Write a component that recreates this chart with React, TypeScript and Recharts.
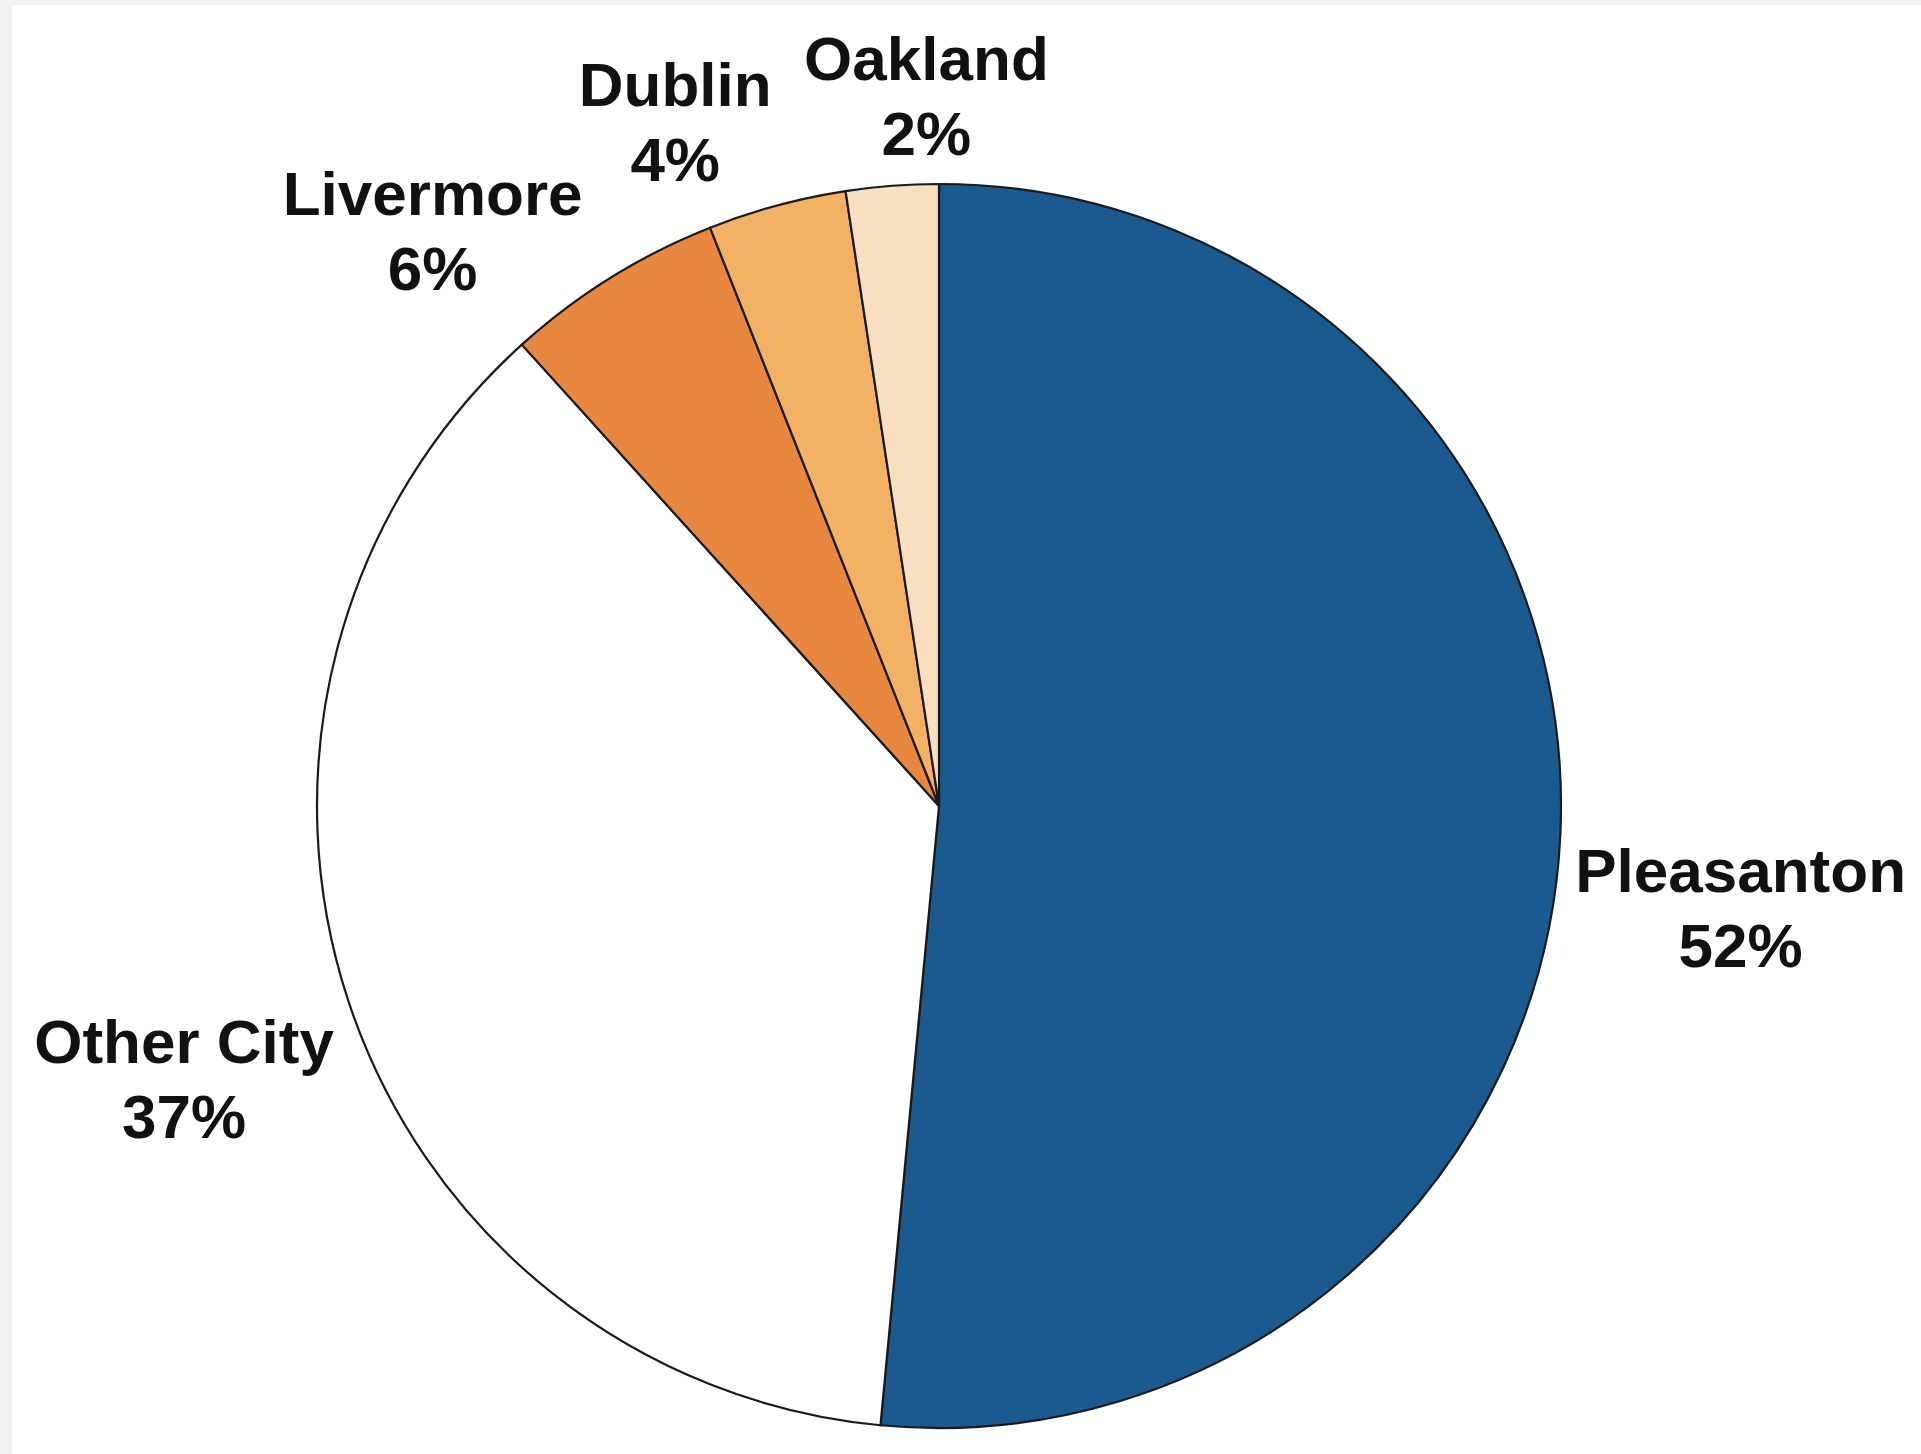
import { PieChart, Pie, Cell } from "recharts";

const cities = ["Pleasanton", "Other City", "Livermore", "Dublin", "Oakland"];
const shares = [51.5, 36.8, 5.7, 3.6, 2.4];

const colors = ["#1a5a8e", "#ffffff", "#e8873f", "#f2b165", "#f7dfc0"];

// label block offsets from the radial anchor, Excel-style placement
const nudges: [number, number][] = [
  [25, 61],
  [-17, 24],
  [-96, 81],
  [-61, 63],
  [46, 61],
];

const RADIAN = Math.PI / 180;

const data = cities.map((name, i) => ({ name, value: shares[i] }));

const renderLabel = (props: any) => {
  const { cx, cy, midAngle, outerRadius, index, name, value } = props;
  const r = outerRadius * 1.25;
  const x = cx + r * Math.cos(-midAngle * RADIAN) + nudges[index][0];
  const y = cy + r * Math.sin(-midAngle * RADIAN) + nudges[index][1];
  return (
    <text
      x={x}
      y={y}
      textAnchor="middle"
      fill="#111"
      fontFamily="'Liberation Sans', Arial, sans-serif"
      fontWeight="bold"
      fontSize={62}
    >
      <tspan x={x} y={y - 12}>
        {name}
      </tspan>
      <tspan x={x} y={y + 63}>
        {Math.round(value)}%
      </tspan>
    </text>
  );
};

export default function App() {
  return (
    <div
      style={{
        position: "absolute",
        left: 0,
        top: 0,
        width: 1921,
        height: 1454,
        background: "#f1f2f4",
      }}
    >
      <div
        style={{
          position: "absolute",
          left: 12,
          top: 5,
          width: 1909,
          height: 1449,
          background: "#ffffff",
        }}
      >
        <PieChart width={1909} height={1449}>
          <Pie
            data={data}
            dataKey="value"
            nameKey="name"
            cx={922}
            cy={796}
            outerRadius={622}
            startAngle={90}
            endAngle={-270}
            stroke="#1a1a1a"
            strokeWidth={2.2}
            label={renderLabel}
            labelLine={false}
            isAnimationActive={false}
          >
            {data.map((d, i) => (
              <Cell key={d.name} fill={colors[i]} />
            ))}
          </Pie>
        </PieChart>
      </div>
    </div>
  );
}
